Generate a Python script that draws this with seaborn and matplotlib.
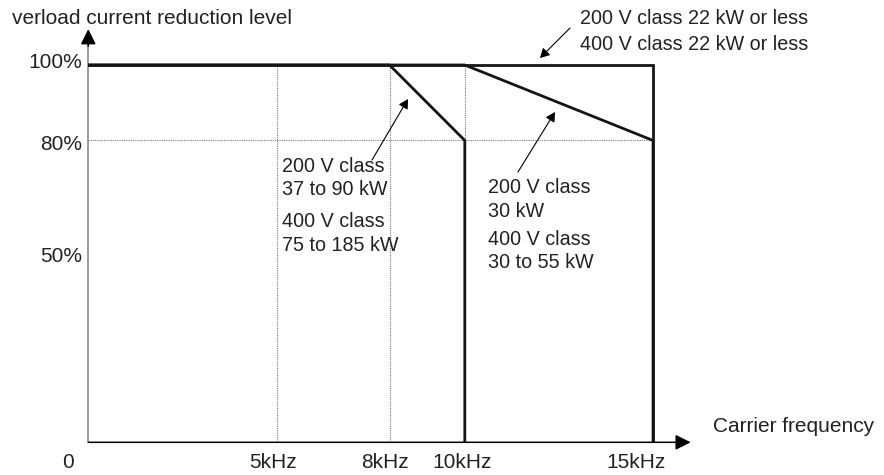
import matplotlib
matplotlib.use('Agg')
import matplotlib.pyplot as plt
import matplotlib.transforms as mtrans
import pandas as pd
import seaborn as sns

W, H = 884, 475

# derating curves: carrier frequency (kHz) -> overload current reduction level (%)
freq_22kw = [0, 15, 15]
level_22kw = [100, 100, 0]
freq_30kw = [0, 10, 15, 15]
level_30kw = [100, 100, 80, 0]
freq_37kw = [0, 8, 10, 10]
level_37kw = [100, 100, 80, 0]

x_ticks = [0, 5, 8, 10, 15]
x_labels = ['0', '5kHz', '8kHz', '10kHz', '15kHz']
y_ticks = [50, 80, 100]
y_labels = ['50%', '80%', '100%']

# dotted guide lines
guide_freq = [5, 8, 10]
guide_low = [0, 0, 80]
guide_high = [100, 100, 100]
guide_level = 80
freq_max = 15

note_22kw = ['200 V class 22 kW or less', '400 V class 22 kW or less']
note_37kw = ['200 V class', '37 to 90 kW', '400 V class', '75 to 185 kW']
note_30kw = ['200 V class', '30 kW', '400 V class', '30 to 55 kW']

TXT = '#222222'
LINE = '#151515'

sns.set_theme(style='white')
plt.rcParams['font.family'] = ['Liberation Sans', 'DejaVu Sans']

df = pd.concat([
    pd.DataFrame({'freq': freq_22kw, 'level': level_22kw, 'curve': '22kW'}),
    pd.DataFrame({'freq': freq_30kw, 'level': level_30kw, 'curve': '30kW'}),
    pd.DataFrame({'freq': freq_37kw, 'level': level_37kw, 'curve': '37kW'}),
], ignore_index=True)

fig = plt.figure(figsize=(W / 100, H / 100), dpi=100)
x0, y0 = 88.3, 442.3          # origin in pixels
sx, sy = 37.65, 3.773         # pixels per kHz / per %
xmax, ymax = 16.5, 112
ax = fig.add_axes([x0 / W, (H - y0) / H, xmax * sx / W, ymax * sy / H])
ax.set_xlim(0, xmax)
ax.set_ylim(0, ymax)
sns.despine(ax=ax, left=True, bottom=True)

# guides
ax.vlines(guide_freq, guide_low, guide_high, colors='#777777', lw=0.8,
          linestyles=(0, (1, 1)), zorder=1)
ax.hlines(guide_level, 0, freq_max, colors='#777777', lw=0.8,
          linestyles=(0, (1, 1)), zorder=1)

# curves
sns.lineplot(data=df, x='freq', y='level', units='curve', estimator=None,
             sort=False, color=LINE, lw=2.0, ax=ax, zorder=3,
             solid_joinstyle='miter')

# axes with arrows
arrow = '-|>,head_length=0.4,head_width=0.2'
ax.annotate('', xy=(16.0, 0), xytext=(0, 0), annotation_clip=False,
            arrowprops=dict(arrowstyle=arrow, mutation_scale=23, lw=1.1,
                            color='black', shrinkA=0, shrinkB=0))
ax.plot([0, 0], [0, 106], color='#808080', lw=1.1, clip_on=False, zorder=2)
ax.annotate('', xy=(0, 109.5), xytext=(0, 105), annotation_clip=False,
            arrowprops=dict(arrowstyle=arrow, mutation_scale=23, lw=1.1,
                            color='black', shrinkA=0, shrinkB=0))

ax.set_xticks(x_ticks)
ax.set_xticklabels(x_labels)
ax.set_yticks(y_ticks)
ax.set_yticklabels(y_labels)
ax.tick_params(axis='x', length=0, pad=7.5, labelsize=15, labelcolor=TXT)
ax.tick_params(axis='y', length=0, pad=4.7, labelsize=15, labelcolor=TXT)
ax.set_xlabel('')
ax.set_ylabel('')
ax.grid(False)

# nudge labels to where they sit in the original drawing
for lab, dx in zip(ax.get_xticklabels(), [-20, -4, -5, -3, -17]):
    lab.set_transform(lab.get_transform() + mtrans.ScaledTranslation(dx / 100, 0, fig.dpi_scale_trans))
for lab, dy in zip(ax.get_yticklabels(), [-1, -2.5, 5]):
    lab.set_transform(lab.get_transform() + mtrans.ScaledTranslation(0, dy / 100, fig.dpi_scale_trans))


def put(x, y, s, size=15):
    fig.text(x / W, 1 - y / H, s, fontsize=size, color=TXT, va='baseline', ha='left')


put(12, 23.5, 'verload current reduction level')
put(713, 432, 'Carrier frequency')

for s, y in zip(note_22kw, [23.5, 50]):
    put(579.5, y, s, 14.2)
for s, y in zip(note_37kw, [171.7, 195, 226.7, 250.7]):
    put(281.7, y, s, 14.2)
for s, y in zip(note_30kw, [193.3, 216.7, 245, 268]):
    put(487.7, y, s, 14.2)


def pointer(start, end):
    ax.annotate('', xy=(end[0], H - end[1]), xytext=(start[0], H - start[1]),
                xycoords='figure pixels', textcoords='figure pixels',
                annotation_clip=False,
                arrowprops=dict(arrowstyle='-|>,head_length=0.4,head_width=0.22',
                                mutation_scale=14, lw=0.8, color='black',
                                shrinkA=0, shrinkB=0))


pointer((570, 28), (540, 58))
pointer((372, 160), (408, 99))
pointer((518, 172), (555, 112))

fig.savefig('out.png', dpi=100)
